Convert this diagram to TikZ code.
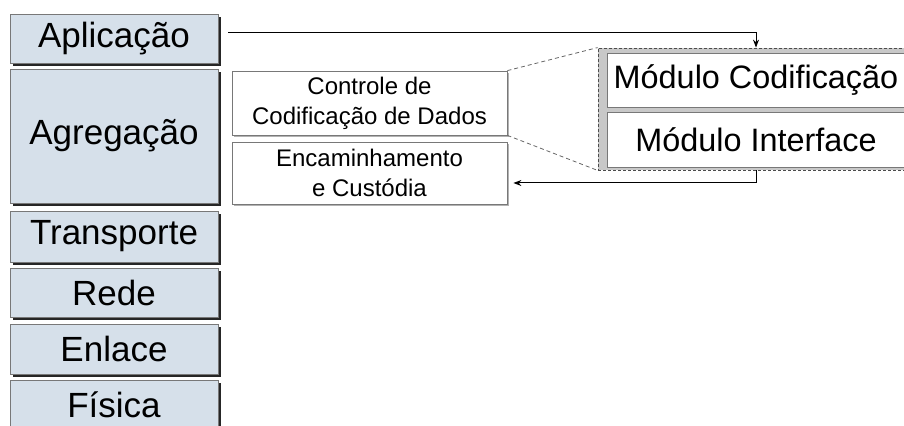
\documentclass[tikz,border=0pt]{standalone}
\usepackage{fontspec}
\setmainfont{Liberation Sans}
\usetikzlibrary{arrows.meta,positioning,calc,shadows}

\definecolor{layerblue}{RGB}{214,224,234}
\definecolor{boxline}{RGB}{120,120,120}
\definecolor{grpfill}{RGB}{200,200,200}

\begin{document}
\begin{tikzpicture}[x=0.5pt, y=-0.5pt,
  layer/.style={draw=boxline, fill=layerblue, minimum width=104pt, inner sep=0pt,
                font=\fontsize{17.5}{20}\selectfont,
                drop shadow={shadow xshift=1.5pt, shadow yshift=-1.5pt, fill=black!85, opacity=1}},
  sub/.style={draw=boxline, fill=white, minimum width=137.5pt, inner sep=0pt, align=center,
              font=\fontsize{12}{15}\selectfont,
              drop shadow={shadow xshift=1.2pt, shadow yshift=-1.2pt, fill=black!30, opacity=1}},
  mod/.style={draw=boxline, fill=white, minimum width=149pt, inner sep=0pt,
              font=\fontsize{16.2}{19}\selectfont},
  grp/.style={draw=black!70, dash pattern=on 1.5pt off 1pt, fill=grpfill, inner sep=0pt},
  lnk/.style={-{Stealth[length=4pt,width=3pt]}, line width=0.5pt},
  zoomln/.style={draw=black!60, dash pattern=on 2pt off 1.5pt, line width=0.4pt},
]
\useasboundingbox (0,0) rectangle (904,426);

% protocol stack
\node[layer, minimum height=24.5pt] (apl) at (114,38.5) {Aplicação};
\node[layer, minimum height=67pt]   (agr) at (114,136)  {Agregação};
\node[layer, minimum height=25.5pt] (tra) at (114,236.5) {Transporte};
\node[layer, minimum height=24.5pt] (red) at (114,292.5) {Rede};
\node[layer, minimum height=25pt]   (enl) at (114,349)  {Enlace};
\node[layer, minimum height=25pt]   (fis) at (114,405)  {Física};

% aggregation sublayers
\node[sub, minimum height=32pt] (ctl) at (369.5,103) {Controle de\\Codificação de Dados};
\node[sub, minimum height=31pt] (enc) at (369.5,173) {Encaminhamento\\e Custódia};

% module detail
\node[grp, minimum width=158pt, minimum height=61pt] (mods) at (756,109) {};
\node[mod, minimum height=27pt]   (mcod) at (756,80)    {Módulo Codificação};
\node[mod, minimum height=27.5pt] (mint) at (756,139.5) {Módulo Interface};

\draw[zoomln] (ctl.north east) -- (mods.north west);
\draw[zoomln] (ctl.south east) -- (mods.south west);

\draw[lnk] ([xshift=5pt,yshift=2.75pt]apl.east) -| (mods.north);
\draw[lnk] (mods.south) |- ([xshift=3pt,yshift=-5pt]enc.east);
\end{tikzpicture}
\end{document}
